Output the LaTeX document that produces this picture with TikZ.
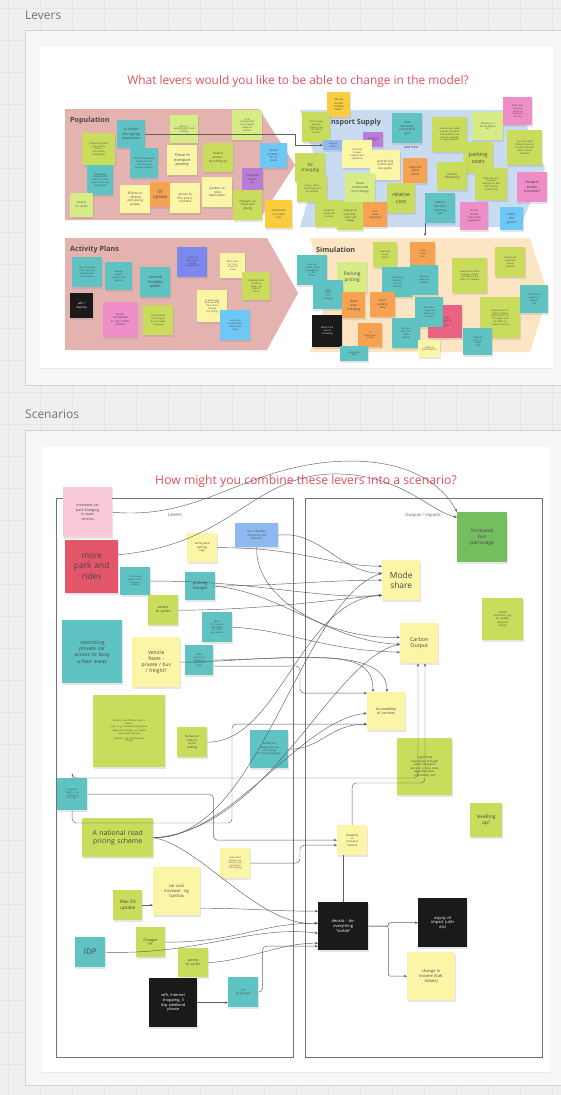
\documentclass[tikz,border=0pt]{standalone}
\usepackage{fontspec}
\setmainfont{Open Sans}
\usetikzlibrary{shadows,arrows.meta,calc}
\definecolor{bgc}{HTML}{EFEFEF}
\definecolor{gridl}{HTML}{E6E6E6}
\definecolor{panelc}{HTML}{F6F6F6}
\definecolor{paneld}{HTML}{D3D3D3}
\definecolor{pinkc}{HTML}{E4B3B0}
\definecolor{bluec}{HTML}{C9DBF1}
\definecolor{orgc}{HTML}{FCE5C2}
\definecolor{lime}{HTML}{CADC5C}
\definecolor{limel}{HTML}{D8EC85}
\definecolor{teal}{HTML}{5EC3C2}
\definecolor{ylw}{HTML}{FBF5A6}
\definecolor{orng}{HTML}{F7A253}
\definecolor{pnk}{HTML}{EE8DC8}
\definecolor{purp}{HTML}{B97DD7}
\definecolor{violet}{HTML}{7D87F0}
\definecolor{cyan}{HTML}{6EC8F5}
\definecolor{gold}{HTML}{F9CD3D}
\definecolor{redn}{HTML}{E3566A}
\definecolor{lpink}{HTML}{F9C9D8}
\definecolor{grn}{HTML}{74BE60}
\definecolor{bblue}{HTML}{8DB9F0}
\definecolor{blk}{HTML}{1A1A1A}
\definecolor{redpk}{HTML}{EB6282}
\definecolor{titlec}{HTML}{E4505A}
\tikzset{
  fs/.style={font=\fontsize{#1}{#1}\selectfont\setlength\baselineskip{1.22\baselineskip}},
  stk/.style={fill=#1, draw=none, inner sep=1pt, align=center, text=black!72, fs=2.3,
    drop shadow={opacity=0.2, shadow xshift=0.3pt, shadow yshift=-1.5pt}},
  con/.style={draw=black!62, line width=0.45pt, -{Stealth[length=3.2pt,width=2.6pt]}},
  ln/.style={draw=black!62, line width=0.45pt},
  lab/.style={font=\bfseries\fontsize{7.2}{7.2}\selectfont, text=black!72, inner sep=0pt},
  frame/.style={draw=black!55, line width=0.6pt},
  ttl/.style={text=titlec, font=\fontsize{11.9}{11.9}\selectfont, inner sep=0pt},
  sect/.style={text=black!55, font=\fontsize{12}{12}\selectfont, inner sep=0pt, anchor=west}
}
\newcommand\sn[8][]{\pgfmathsetmacro\snw{#5-3}\node[stk=#7,anchor=north west,minimum width=#5pt,minimum height=#6pt,text width=\snw pt,#1] (#2) at (#3,#4) {#8};}
\begin{document}
\begin{tikzpicture}[x=1pt,y=-1pt]
\useasboundingbox (0,0) rectangle (561,1095);
\fill[bgc] (0,0) rectangle (561,1095);
\foreach \gx in {8,40,...,561} \draw[gridl,line width=0.5pt] (\gx,0) -- (\gx,1095);
\foreach \gy in {8,40,...,1095} \draw[gridl,line width=0.5pt] (0,\gy) -- (561,\gy);

% ================= LEVERS PANEL =================
\node[sect] (secL) at (25,15) {Levers};
\filldraw[fill=panelc,draw=paneld,line width=0.8pt] (25,30) rectangle (575,385);
\fill[white,drop shadow={opacity=0.12,shadow xshift=0pt,shadow yshift=-1pt}] (40,47) rectangle (553,368);
\node[ttl] (t1) at (298,81) {What levers would you like to be able to change in the model?};

\fill[pinkc] (65,109) -- (259,109) -- (295,165) -- (259,220) -- (65,220) -- cycle;
\fill[bluec] (300,110) -- (520,110) -- (545,168) -- (520,227) -- (300,227) -- (318,168) -- cycle;
\fill[pinkc] (65,238) -- (267,238) -- (298,293) -- (267,350) -- (65,350) -- cycle;
\fill[orgc] (310,238) -- (530,238) -- (548,295) -- (530,352) -- (310,352) -- (328,295) -- cycle;

\node[lab,anchor=west] (lpop) at (70,121) {Population};
\node[lab,anchor=west] (lap) at (70,250) {Activity Plans};
\node[fs=3.6,text=black!70,inner sep=0pt] (andhow) at (411,147) {and how};

% Population notes
\sn[fs=3.5]{P1}{117}{120}{28}{28}{teal}{ry reflect\\the ageing\\population}
\sn{P2}{170}{115}{28}{28}{limel}{effect on\\demographics and\\mobility}
\sn{P3}{82}{133}{33}{32}{lime}{Travel for growth\\and tourism,\\links to\\connectivity\\and growth}
\sn{P4}{87}{165}{26}{30}{teal}{Trade-based\\mobility and\\impact to rural\\links for tourism\\and growth}
\sn{P5}{130}{148}{28}{30}{teal}{Interaction between\\household and\\economy and\\working patterns}
\sn[fs=3.8]{P6}{167}{145}{30}{30}{ylw}{Those in\\transport\\poverty}
\sn[fs=3.1]{P7}{203}{143}{30}{29}{lime}{coastal\\access -\\brushing up}
\sn{P8}{232}{110}{30}{30}{limel}{local\\communities\\and cheaper\\transport\\options}
\sn[fs=2.7]{P9}{260}{143}{27}{25}{cyan}{Shared\\mobility -\\EV car\\clubs}
\sn[fs=2.8]{P10}{242}{168}{21}{22}{purp}{Proposed\\tourist\\tax}
\sn[fs=3.1]{P11}{233}{190}{29}{30}{lime}{Impacts on\\rural and\\young}
\sn[fs=2.7]{P12}{265}{200}{27}{28}{gold}{Shared EVs\\vs Private\\cars}
\sn[fs=3]{P13}{70}{193}{23}{24}{limel}{access\\to cycles}
\sn[fs=3.1]{P14}{120}{185}{30}{28}{ylw}{Effects on\\children\\and young\\people}
\sn[fs=4.4]{P15}{150}{182}{20}{25}{orng}{EV\\uptake}
\sn[fs=3.1]{P16}{170}{183}{30}{30}{ylw}{access to\\EVs and e-\\scooters}
\sn[fs=3.1]{P17}{202}{177}{30}{30}{ylw}{pockets of\\rural\\deprivation}

% Transport supply notes
\sn[fs=2.7]{T1}{327}{92}{23}{25}{gold}{Can we\\model\\mobility\\hubs?}
\sn{T2}{302}{112}{28}{30}{lime}{Can't model\\network\\capacity, but\\can model\\service}
\node[lab,anchor=west] (lts) at (331,123) {nsport Supply};
\sn{T3}{363}{132}{20}{15}{purp}{Grouping\\routes}
\sn{T4}{323}{140}{20}{10}{bblue}{new rail\\station}
\sn[fs=2.9]{T5}{392}{113}{30}{30}{teal}{How\\electricity\\connectivity\\grid}
\sn{T6}{342}{140}{30}{28}{ylw}{electrical\\charger\\network and\\availability}
\sn[fs=3]{T7}{370}{150}{30}{30}{ylw}{priority bus\\routes and\\bus gates}
\sn[fs=3]{T8}{403}{158}{24}{25}{orng}{Regional\\rapid\\transit}
\sn{T9}{432}{117}{35}{35}{lime}{How can we model\\a public transport\\improvement and\\deliver a change\\in travel patterns}
\sn{T10}{472}{112}{31}{28}{limel}{Mobility as a\\Service (MaaS)\\etc}
\sn[fs=5.4]{T11}{463}{142}{30}{31}{lime}{parking\\costs}
\sn{T12}{503}{97}{29}{28}{pnk}{What does\\demand\\response\\transport\\look like}
\sn{T13}{507}{130}{35}{35}{lime}{Can we model\\different types of\\bus services and\\what is most\\effective}
\sn[fs=4.4]{T14}{295}{153}{30}{29}{lime}{EV\\charging}
\sn{T15}{297}{175}{30}{27}{lime}{access, safety\\and charging of\\EV network}
\sn[fs=3]{T16}{345}{173}{30}{29}{limel}{Faster\\multimodal\\tech change}
\sn[fs=5.2]{T17}{387}{183}{28}{30}{lime}{relative\\cost}
\sn[fs=3.1]{T18}{437}{162}{30}{28}{lime}{service\\frequency}
\sn{T19}{475}{168}{32}{32}{lime}{What the cost\\of public\\transport is and\\the ticketing\\and pricing}
\sn[fs=3.7]{T20}{517}{172}{30}{30}{pnk}{cheaper\\public\\transport}
\sn[fs=2.9]{T21}{425}{193}{30}{30}{teal}{district\\transport\\including\\cars}
\sn[fs=2.7]{T22}{460}{202}{28}{28}{pnk}{Do we\\model\\more than\\regularity?}
\sn[fs=3]{T23}{500}{207}{23}{23}{cyan}{HGV /\\LGV\\growth}
\sn{T24}{315}{200}{28}{27}{lime}{Rural bus\\routes and\\services}
\sn[fs=2.7]{T25}{337}{202}{26}{28}{lime}{changes to\\fuel duty\\could cost\\charge}
\sn[fs=2.7]{T26}{363}{202}{24}{25}{orng}{bus\\route\\frequency}

% Activity plan notes
\sn{A1}{72}{257}{30}{30}{teal}{How do people\\plan trips and\\make choices\\of destination}
\sn{A2}{105}{262}{27}{28}{teal}{delivery\\system\\growth and\\logistics}
\sn[fs=3.9]{A3}{140}{267}{30}{30}{teal}{Leisure\\/holiday\\peaks}
\sn{A4}{177}{247}{30}{30}{violet}{Impact on\\behavioural\\change\\programmes}
\sn{A5}{220}{253}{25}{25}{ylw}{More trust\\for time\\of use of\\travel}
\sn{A6}{242}{272}{28}{28}{lime}{Changing flows\\of school\\travel - eg\\trips to\\school}
\sn[fs=2.8,text=white]{A7}{70}{293}{23}{25}{blk}{wfh +\\daytrips}
\sn[fs=3]{A8}{103}{302}{34}{35}{pnk}{more\\residential\\in city / town\\centres}
\sn{A9}{143}{305}{30}{30}{lime}{Same growth\\in the region\\due to online\\shopping}
\sn{A10}{197}{290}{30}{32}{ylw}{In what ways\\does working\\from home\\change\\trip timing}
\sn{A11}{220}{310}{30}{30}{cyan}{How does\\work pattern\\affect peak\\travel}

% Simulation notes
\sn{M1}{297}{255}{30}{30}{teal}{How will\\people reach\\destinations\\in the\\future}
\node[lab,anchor=west] (lsim) at (316,250) {Simulation};
\sn[fs=4.8]{M2}{337}{262}{30}{30}{limel}{Parking\\pricing}
\sn{M3}{373}{242}{24}{25}{lime}{Incentives\\to use\\transit}
\sn{M4}{410}{242}{25}{23}{orng}{Travel\\model\\tests}
\sn{M5}{382}{267}{30}{30}{teal}{Additional\\network of\\existing\\capacity}
\sn{M6}{410}{265}{28}{30}{teal}{network\\data and\\capacity}
\sn{M7}{452}{258}{35}{35}{lime}{How do we model\\change in travel\\and capture the\\effect on network}
\sn{M8}{495}{247}{30}{30}{lime}{How do we\\model the\\overall\\network}
\sn{M9}{313}{280}{30}{29}{teal}{Peak\\travel\\and\\charging}
\sn[fs=3.3]{M10}{342}{292}{23}{26}{orng}{Road\\user\\charging}
\sn[fs=2.9]{M11}{370}{292}{25}{25}{orng}{work\\parking\\levy}
\sn{M13}{428}{305}{34}{33}{redpk}{pricing\\road use by\\city\\centres}
\sn{M12}{415}{297}{28}{30}{teal}{What will\\change the\\pattern of\\demand}
\sn{M14}{480}{297}{40}{41}{lime}{Application of a\\National Road\\pricing system in\\the region and\\the effect on\\modes and trips}
\sn{M15}{520}{285}{28}{28}{teal}{What is the\\impact of\\network\\size}
\sn[text=white]{M16}{312}{315}{30}{32}{blk}{What is the\\role of\\modelling}
\sn{M17}{358}{323}{24}{24}{orng}{Or\\alternative\\routes}
\sn{M18}{392}{318}{28}{30}{teal}{ability to\\test local\\plan\\impacts}
\sn{M19}{463}{328}{29}{27}{teal}{Regional\\policy on\\modal\\shift}
\sn{M20}{418}{340}{22}{17}{ylw}{effect of\\electrification}
\sn{M21}{340}{346}{28}{15}{teal}{alternative\\data}

\coordinate (dn) at (425,236);
\draw[con] (P1.east) -- ++(150,0) |- (T4.west);
\draw[con] (T21.south west) -- (dn);

% ================= SCENARIOS PANEL =================
\node[sect] (secS) at (25,414) {Scenarios};
\filldraw[fill=panelc,draw=paneld,line width=0.8pt] (25,430) rectangle (575,1085);
\fill[white,drop shadow={opacity=0.12,shadow xshift=0pt,shadow yshift=-1pt}] (42,447) rectangle (550,1072);
\node[ttl,font=\fontsize{12.2}{12.2}\selectfont] (t2) at (306,481) {How might you combine these levers into a scenario?};

\draw[frame] (56,498) rectangle (293,1057);
\draw[frame] (305,498) rectangle (542,1057);
\node[fs=4.6,text=black!65,inner sep=0pt] (levlab) at (175,515) {Levers};
\node[fs=4.2,text=black!65,inner sep=0pt] (outlab) at (423,515) {Outputs / Impacts};

\sn[fs=3.6]{S1}{63}{487}{49}{50}{lpink}{increased car\\park charging\\in town\\centres}
\sn[fs=8.4]{S2}{65}{540}{53}{53}{redn}{more\\park and\\rides}
\sn{S3}{120}{567}{30}{28}{teal}{To increase\\awareness of\\changes in\\driving?}
\sn[fs=2.9]{S4}{187}{533}{30}{29}{ylw}{work place\\parking\\levy}
\sn[fs=2.7]{S5}{235}{523}{43}{24}{bblue}{Bus schedules\\(frequency and\\duration)}
\sn[fs=4.1]{S6}{185}{572}{30}{28}{teal}{parking\\charges}
\sn[fs=3.6]{S7}{148}{595}{30}{30}{lime}{access\\to cycles}
\sn{S8}{202}{612}{30}{30}{teal}{Ideas\\for charging\\affordable\\for cyclists\\and walkers}
\sn[fs=5.2]{S9}{62}{620}{60}{63}{teal}{restricting\\private car\\access to busy\\urban areas}
\sn[fs=4.9]{S10}{132}{637}{48}{50}{ylw}{Vehicle\\fleets -\\private / bus\\/ freight?}
\sn{S11}{185}{645}{28}{30}{teal}{switch\\vehicles to\\cleaner or\\zero carbon\\fuels}
\sn[fs=4.9]{S12}{457}{512}{50}{50}{grn}{increased\\bus\\patronage}
\sn[fs=8.4]{S13}{382}{560}{38}{40}{ylw}{Mode\\share}
\sn[fs=2.7]{S14}{482}{598}{41}{42}{lime}{Health\\outcomes, e.g.\\air quality,\\physical\\activity}
\sn[fs=5.3]{S15}{400}{623}{38}{40}{ylw}{Carbon\\Output}
\sn[fs=2.2]{S16}{93}{695}{72}{72}{lime}{Ability to test different `tiers' of\\levers:\\Local - e.g. increased parking levies\\[2pt]Regional / Strategic - e.g. Rapid\\Transit, park and ride\\[2pt]National - e.g. National Road\\Pricing}
\sn[fs=2.9]{S17}{177}{727}{30}{30}{lime}{Behaviour\\shifts to\\more\\walking}
\sn[fs=2.7]{S18}{250}{730}{38}{38}{teal}{Additional\\charges for car\\use to pay\\for bus patronage}
\sn[fs=2.3]{S19}{57}{778}{30}{32}{teal}{Uncertain:\\freight or car\\- impact on\\passenger}
\sn[fs=6.9]{S20}{82}{818}{71}{39}{lime}{A national road\\pricing scheme}
\sn[fs=3.6]{S21}{367}{692}{38}{38}{ylw}{Accessibility\\of services}
\sn[fs=2.9]{S22}{397}{738}{55}{57}{lime}{Supporting\\businesses through\\better transport\\(access to jobs, GVA,\\agglomeration,\\connectivity etc)}
\sn[fs=4.9]{S23}{470}{803}{32}{34}{lime}{levelling\\up?}
\sn[fs=2.7]{S24}{337}{825}{30}{30}{ylw}{Reliability\\of\\transport\\network}
\sn[fs=2.1]{S25}{220}{848}{30}{30}{ylw}{Link/conflict\\between car\\efficiency and\\businesses\\and charging}
\sn[fs=4.1]{S26}{153}{867}{47}{48}{ylw}{car cost\\increase - eg\\fuel/tax}
\sn[fs=4.7]{S27}{113}{890}{29}{30}{lime}{Max EV\\uptake}
\sn[fs=3.7]{S28}{136}{927}{29}{30}{lime}{Cheaper\\PT}
\sn[fs=7.8]{S29}{75}{937}{30}{30}{teal}{IDP}
\sn[fs=3.6]{S30}{178}{948}{30}{29}{lime}{access\\to cycles}
\sn[fs=3.9,text=white]{S31}{149}{978}{48}{49}{blk}{wfh, internet\\shopping, 3\\day weekend\\please}
\sn[fs=2.7]{S32}{228}{977}{30}{30}{teal}{LTP\\programme}
\sn[fs=4,text=white]{S33}{318}{902}{50}{48}{blk}{decarb - do-\\everything\\``visible''}
\sn[fs=4,text=white]{S34}{418}{898}{49}{49}{blk}{equity of\\impact (utils\\etc)}
\sn[fs=4]{S35}{407}{952}{48}{48}{ylw}{change in\\income (fuel,\\tickets)}

% helper coordinates for orthogonal routes
\coordinate (cxA) at (418,0);
\coordinate (cxB) at (425,0);

% connectors
\draw[con] (S1.east) .. controls (200,520) and (240,470) .. (330,462) .. controls (400,456) and (440,480) .. (S12.north west);
\draw[con] ([yshift=12pt]S2.east) .. controls (230,545) and (250,478) .. (330,474) .. controls (400,472) and (430,512) .. ([yshift=20pt]S12.west);
\draw[con] (S4.east) .. controls (300,547) and (330,566) .. ([yshift=14pt]S13.west);
\draw[con] (S5.east) .. controls (320,530) and (340,573) .. ([yshift=7pt]S13.west);
\draw[con] (S5.south) .. controls (255,600) and (330,640) .. ([yshift=6pt]S15.west);
\draw[con] (S6.east) .. controls (290,585) and (330,580) .. (S13.west);
\draw[con] (S6.east) .. controls (280,592) and (330,642) .. ([yshift=-1pt]S15.west);
\draw[con] (S3.east) .. controls (250,580) and (320,600) .. ([yshift=-15pt]S13.west);
\draw[con] (S7.east) .. controls (260,610) and (330,600) .. ([yshift=-15pt]S13.west);
\draw[con] (S8.east) .. controls (290,630) and (320,650) .. ([yshift=-9pt]S15.west);
\draw[con] (S11.east) .. controls (330,657) and (373,650) .. ([xshift=6pt]S21.north west);
\draw[con] (S10.east) .. controls (260,662) and (387,640) .. ([xshift=20pt]S21.north west);
\draw[con,rounded corners=4pt] ([yshift=-6pt]S11.east) -- (300,666) |- ([yshift=18pt]S21.west);
\draw[con] (S17.east) .. controls (280,742) and (300,600) .. ([yshift=-15pt]S13.west);
\draw[con] (S18.east) .. controls (320,750) and (330,724) .. ([yshift=-13pt]S21.west);
\draw[con] (S20.east) .. controls (260,840) and (300,600) .. ([yshift=7pt]S13.west);
\draw[con] (S20.east) .. controls (270,830) and (330,660) .. ([yshift=-1pt]S15.west);
\draw[con] (S20.east) .. controls (230,838) and (300,720) .. ([yshift=-2pt]S21.west);
\draw[con] (S20.east) .. controls (200,845) and (260,928) .. ([yshift=3pt]S33.west);
\draw[con,rounded corners=4pt] (S19.east) -- ++(126,0) |- (S24.west);
\draw[con,rounded corners=4pt] (S19.south) |- (232,823) |- ([yshift=-13pt]S21.west);
\draw[con,rounded corners=4pt] (S19.north) |- (418,778) -- (S15.south -| cxA);
\draw[con,rounded corners=4pt] (S24.north) |- (425,783) -- (S15.south -| cxB);
\draw[ln] (S33.north) -- (S33.north |- S24.south);
\draw[con,rounded corners=4pt] (S25.east) -- (300,863) |- ([yshift=-5pt]S24.west);
\draw[con] ([yshift=-17pt]S26.east) to[out=0,in=180] ([yshift=15pt]S33.west);
\draw[con] (S27.east) -- (S27.east -| S26.west);
\draw[con] (S28.east) .. controls (240,942) and (260,923) .. ([yshift=3pt]S33.west);
\draw[con] (S29.east) .. controls (200,955) and (250,925) .. ([yshift=-7pt]S33.west);
\draw[con] (S30.east) .. controls (250,960) and (280,943) .. ([yshift=-17pt]S33.west);
\draw[con] (S31.east) -- (S31.east -| S32.west);
\draw[con,rounded corners=4pt] (S32.east) -- ++(4,0) |- ([yshift=-20pt]S33.west);
\draw[con,rounded corners=2pt] (S33.east) -- ++(20,0) |- (S34.west);
\draw[con,rounded corners=2pt] (S33.east) -- ++(20,0) |- (S35.west);
\end{tikzpicture}
\end{document}
